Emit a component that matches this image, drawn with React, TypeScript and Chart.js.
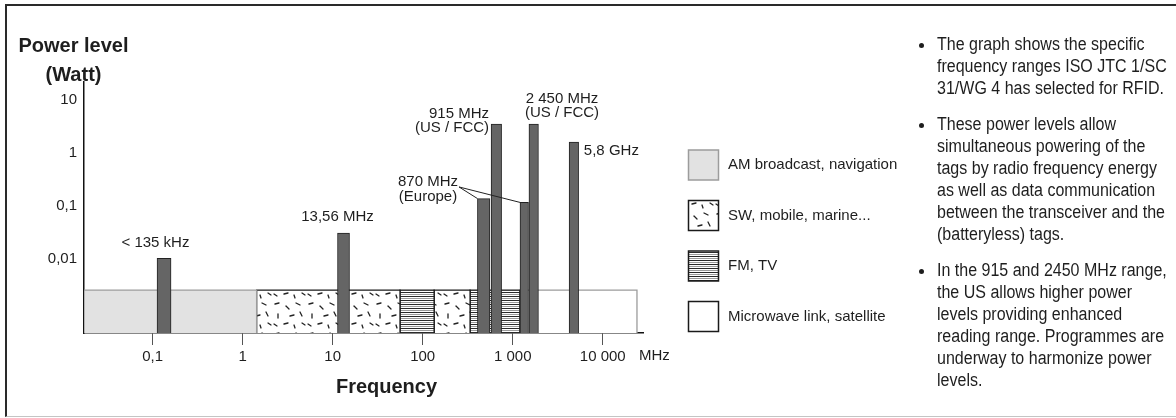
import React, { useEffect, useRef } from 'react';
import { Chart, registerables } from 'chart.js';

Chart.register(...registerables);

// ---------- data ----------
const X_TICK_VALUES = [0.1, 1, 10, 100, 1000, 10000];
const X_TICK_LABELS = ['0,1', '1', '10', '100', '1 000', '10 000'];
const Y_TICK_VALUES = [0.01, 0.1, 1, 10];
const Y_TICK_LABELS = ['0,01', '0,1', '1', '10'];

const X_MIN = 0.0173;
const X_MAX = 28000;
const Y_MIN = 0.000385;
const Y_MAX = 22;

const BAR_NAMES = ['< 135 kHz', '13,56 MHz', '870 MHz (Europe)', '915 MHz (US / FCC)', '870 MHz (Europe)', '2 450 MHz (US / FCC)', '5,8 GHz'];
const BAR_FREQ_MHZ = [0.134, 13.2, 476, 658, 1343, 1710, 4777];
const BAR_POWER_W = [0.01, 0.03, 0.136, 3.5, 0.115, 3.5, 1.6];
const BAR_LABEL_LINES = [['< 135 kHz'], ['13,56 MHz'], ['870 MHz', '(Europe)'], ['915 MHz', '(US / FCC)'], [], ['2 450 MHz', '(US / FCC)'], ['5,8 GHz']];

const BAND_NAMES = ['AM broadcast, navigation', 'SW, mobile, marine...', 'FM, TV', 'SW, mobile, marine...', 'FM, TV', 'Microwave link, satellite'];
const BAND_KIND = ['am', 'sw', 'fm', 'sw', 'fm', 'mw'];
const BAND_START_MHZ = [X_MIN, 1.43, 56, 134, 336, 1200];
const BAND_END_MHZ = [1.43, 56, 134, 336, 1200, 24000];
const BAND_LEVEL_W = 0.0025;

const LEGEND_LABELS = ['AM broadcast, navigation', 'SW, mobile, marine...', 'FM, TV', 'Microwave link, satellite'];
const LEGEND_KIND = ['am', 'sw', 'fm', 'mw'];

const BULLETS = [
  ['The graph shows the specific', 'frequency ranges ISO JTC 1/SC', '31/WG 4 has selected for RFID.'],
  ['These power levels allow', 'simultaneous powering of the', 'tags by radio frequency energy', 'as well as data communication', 'between the transceiver and the', '(batteryless) tags.'],
  ['In the 915 and 2450 MHz range,', 'the US allows higher power', 'levels providing enhanced', 'reading range. Programmes are', 'underway to harmonize power', 'levels.'],
];

// ---------- styles ----------
const BAR_WIDTH_PX = [14, 12, 12.5, 10.5, 8.5, 9.5, 9.5];
const FONT = '"Liberation Sans", Arial, Helvetica, sans-serif';
const TEXT = '#1e1e1e';

// label layout relative to each bar (center x / top y in pixels)
const LABEL_LAYOUT: any[] = [
  { align: 'center', dx: -8.6, dy: -16 },
  { align: 'center', dx: -6, dy: -16 },
  { align: 'center', dx: -55.7, dy: -16.6 },
  { align: 'right', dx: -7.3, dy: -10.7 },
  null,
  { align: 'center', dx: 28.3, dy: -25.7 },
  { align: 'left', dx: 10, dy: 9 },
];

function makeSwPattern(ctx: CanvasRenderingContext2D) {
  const c = document.createElement('canvas');
  c.width = 34;
  c.height = 30;
  const g = c.getContext('2d')!;
  g.fillStyle = '#ffffff';
  g.fillRect(0, 0, 34, 30);
  g.strokeStyle = '#222';
  g.lineWidth = 1.3;
  g.lineCap = 'round';
  const dashes = [
    [3, 4, 7, 3], [14, 6, 17, 9], [24, 3, 28, 5], [6, 14, 6, 18], [18, 16, 22, 15],
    [28, 12, 30, 16], [2, 24, 5, 26], [12, 24, 16, 23], [22, 25, 23, 28], [30, 23, 33, 25],
  ];
  dashes.forEach(([a, b, cc, d]) => {
    g.beginPath();
    g.moveTo(a, b);
    g.lineTo(cc, d);
    g.stroke();
  });
  return ctx.createPattern(c, 'repeat')!;
}

function makeFmPattern(ctx: CanvasRenderingContext2D) {
  const c = document.createElement('canvas');
  c.width = 4;
  c.height = 4;
  const g = c.getContext('2d')!;
  g.fillStyle = '#ffffff';
  g.fillRect(0, 0, 4, 4);
  g.fillStyle = '#2a2a2a';
  g.fillRect(0, 0, 4, 1);
  g.fillStyle = '#9a9a9a';
  g.fillRect(0, 2, 4, 1);
  return ctx.createPattern(c, 'repeat')!;
}

export default function App() {
  const ref = useRef<HTMLCanvasElement>(null);

  useEffect(() => {
    const canvas = ref.current!;
    const ctx0 = canvas.getContext('2d')!;
    const fills: any = { am: '#e2e2e2', sw: makeSwPattern(ctx0), fm: makeFmPattern(ctx0), mw: '#ffffff' };
    const borders: any = { am: '#9c9c9c', sw: '#1a1a1a', fm: '#1a1a1a', mw: '#9c9c9c' };

    const bandSets: any[] = BAND_KIND.map((k, i) => ({
      type: 'line',
      label: BAND_NAMES[i],
      order: 2,
      data: [
        { x: BAND_START_MHZ[i], y: Y_MIN },
        { x: BAND_START_MHZ[i], y: BAND_LEVEL_W },
        { x: BAND_END_MHZ[i], y: BAND_LEVEL_W },
        { x: BAND_END_MHZ[i], y: Y_MIN },
      ],
      backgroundColor: fills[k],
      borderColor: borders[k],
      borderWidth: 1.3,
      fill: 'start',
      pointRadius: 0,
      tension: 0,
    }));

    const barSets: any[] = BAR_FREQ_MHZ.map((f, i) => ({
      type: 'bar',
      label: BAR_NAMES[i],
      order: 1,
      data: [{ x: f, y: BAR_POWER_W[i] }],
      backgroundColor: '#656565',
      borderColor: '#222222',
      borderWidth: 1,
      barThickness: BAR_WIDTH_PX[i],
      grouped: false,
    }));

    const overlay = {
      id: 'overlay',
      afterDatasetsDraw(chart: any) {
        const { ctx, scales } = chart;
        const x = scales.x;
        const y = scales.y;
        ctx.save();
        ctx.fillStyle = TEXT;
        ctx.font = `15px ${FONT}`;
        ctx.textBaseline = 'middle';
        BAR_LABEL_LINES.forEach((lines, i) => {
          const lay = LABEL_LAYOUT[i];
          if (!lay || !lines.length) return;
          const cx = x.getPixelForValue(BAR_FREQ_MHZ[i]);
          const top = y.getPixelForValue(BAR_POWER_W[i]);
          ctx.textAlign = lay.align;
          lines.forEach((t: string, j: number) => {
            ctx.fillText(t, cx + lay.dx, top + lay.dy + j * 14.5);
          });
        });
        // leader lines from the 870 MHz label to both European bars
        const c2 = x.getPixelForValue(BAR_FREQ_MHZ[2]);
        const t2 = y.getPixelForValue(BAR_POWER_W[2]);
        const c4 = x.getPixelForValue(BAR_FREQ_MHZ[4]);
        const t4 = y.getPixelForValue(BAR_POWER_W[4]);
        const sx = c2 - 24.7;
        const sy = t2 - 11.6;
        ctx.strokeStyle = '#222';
        ctx.lineWidth = 1;
        ctx.beginPath();
        ctx.moveTo(sx, sy);
        ctx.lineTo(c2 - BAR_WIDTH_PX[2] / 2, t2);
        ctx.moveTo(sx, sy);
        ctx.lineTo(c4 - BAR_WIDTH_PX[4] / 2, t4);
        ctx.stroke();
        ctx.restore();
      },
      afterDraw(chart: any) {
        const { ctx, scales } = chart;
        const x = scales.x;
        ctx.save();
        ctx.fillStyle = TEXT;
        // axis titles
        ctx.font = `bold 20px ${FONT}`;
        ctx.textAlign = 'center';
        ctx.textBaseline = 'middle';
        ctx.fillText('Power level', 73.5, 46);
        ctx.fillText('(Watt)', 73.5, 75);
        ctx.fillText('Frequency', 386.5, 387);
        // unit after the last tick
        ctx.font = `15px ${FONT}`;
        ctx.textAlign = 'left';
        ctx.textBaseline = 'top';
        ctx.fillText('MHz', 639, x.top + 12 + 3);
        // legend
        const ys = [150, 200.5, 251, 301.5];
        LEGEND_LABELS.forEach((lab, i) => {
          const k = LEGEND_KIND[i];
          const bx = 688.5;
          const by = ys[i];
          ctx.fillStyle = fills[k];
          ctx.fillRect(bx, by, 30, 30);
          ctx.strokeStyle = k === 'am' ? '#9c9c9c' : '#1a1a1a';
          ctx.lineWidth = 1.5;
          ctx.strokeRect(bx, by, 30, 30);
          ctx.fillStyle = TEXT;
          ctx.font = `15px ${FONT}`;
          ctx.textBaseline = 'middle';
          ctx.textAlign = 'left';
          ctx.fillText(lab, 728, by + 15);
        });
        ctx.restore();
      },
    };

    const chart = new Chart(canvas, {
      type: 'bar',
      data: { datasets: [...bandSets, ...barSets] },
      options: {
        responsive: false,
        animation: false,
        devicePixelRatio: 1,
        layout: { padding: { left: 0, top: 82, right: 1176 - 643, bottom: 0 } },
        plugins: { legend: { display: false }, tooltip: { enabled: false }, title: { display: false } },
        scales: {
          x: {
            type: 'logarithmic',
            min: X_MIN,
            max: X_MAX,
            offset: false,
            afterFit: (s: any) => { s.height = 418 - 333; },
            afterBuildTicks: (s: any) => { s.ticks = X_TICK_VALUES.map((v) => ({ value: v })); },
            grid: { display: true, drawOnChartArea: false, drawTicks: true, tickLength: 12, color: '#555', tickWidth: 1, offset: false },
            border: { display: true, color: '#111', width: 1.5 },
            ticks: {
              autoSkip: false,
              maxRotation: 0,
              padding: 3,
              color: TEXT,
              font: { family: FONT, size: 15 },
              callback: (v: any) => {
                const i = X_TICK_VALUES.indexOf(Number(v));
                return i >= 0 ? X_TICK_LABELS[i] : '';
              },
            },
          },
          y: {
            type: 'logarithmic',
            min: Y_MIN,
            max: Y_MAX,
            afterFit: (s: any) => { s.width = 84; },
            afterBuildTicks: (s: any) => { s.ticks = Y_TICK_VALUES.map((v) => ({ value: v })); },
            grid: { display: false, drawTicks: false },
            border: { display: true, color: '#111', width: 1.5 },
            ticks: {
              padding: 7,
              color: TEXT,
              font: { family: FONT, size: 15 },
              callback: (v: any) => {
                const i = Y_TICK_VALUES.indexOf(Number(v));
                return i >= 0 ? Y_TICK_LABELS[i] : '';
              },
            },
          },
        },
      } as any,
      plugins: [overlay],
    });
    return () => chart.destroy();
  }, []);

  // right-hand text lines
  const lineTops: { text: string; y: number; bullet: boolean }[] = [];
  let cy = 44;
  BULLETS.forEach((para, pi) => {
    if (pi > 0) cy += 14;
    para.forEach((t, li) => {
      lineTops.push({ text: t, y: cy, bullet: li === 0 });
      cy += 22;
    });
  });

  return (
    <div style={{ position: 'absolute', left: 0, top: 0, width: 1176, height: 418, background: '#fff', overflow: 'hidden' }}>
      <div style={{ position: 'absolute', left: 5, top: 4, width: 1171, height: 413, boxSizing: 'border-box', borderTop: '2px solid #2a2a2a', borderLeft: '2px solid #2a2a2a', borderBottom: '1px solid #c4c4c4' }} />
      <canvas ref={ref} width={1176} height={418} style={{ position: 'absolute', left: 0, top: 0, display: 'block' }} />
      {lineTops.map((l, i) => (
        <React.Fragment key={i}>
          {l.bullet && (
            <div style={{ position: 'absolute', left: 919, top: l.y - 1.5, width: 5, height: 5, borderRadius: '50%', background: TEXT }} />
          )}
          <div
            style={{
              position: 'absolute',
              left: 937,
              top: l.y - 11,
              height: 22,
              lineHeight: '22px',
              fontFamily: FONT,
              fontSize: 18,
              color: TEXT,
              whiteSpace: 'nowrap',
              transform: 'scaleX(0.89)',
              transformOrigin: 'left center',
            }}
          >
            {l.text}
          </div>
        </React.Fragment>
      ))}
    </div>
  );
}
